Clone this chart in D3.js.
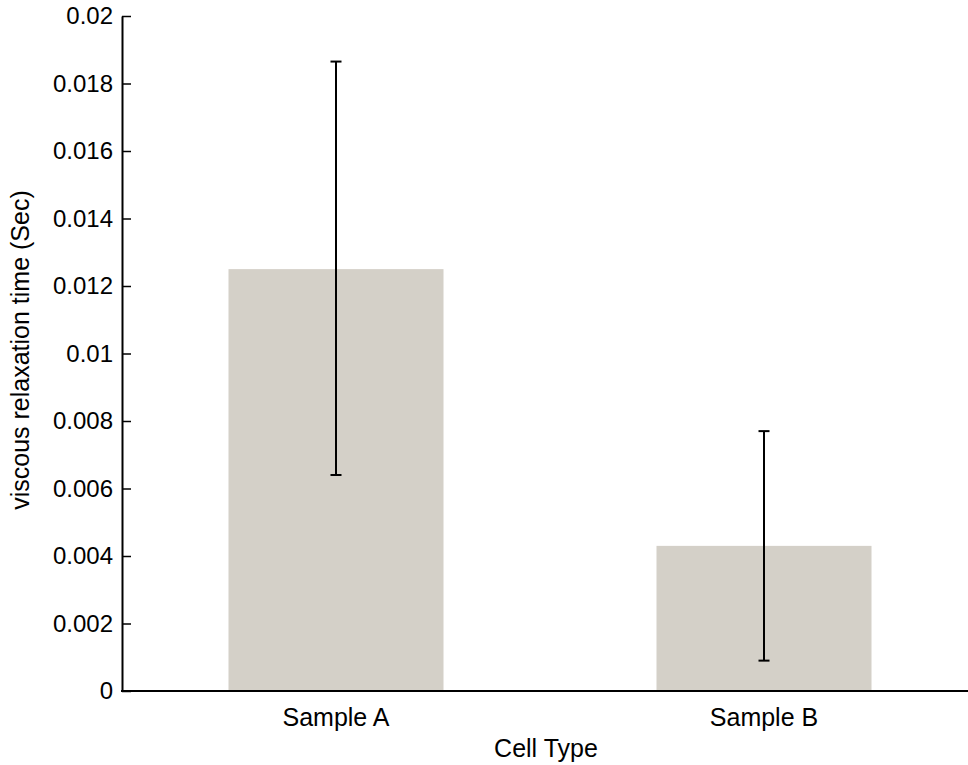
<!DOCTYPE html>
<html>
<head>
<meta charset="utf-8">
<script src="https://cdn.jsdelivr.net/npm/d3@7"></script>
<style>
html,body{margin:0;padding:0;background:#fff;}
svg{display:block;font-family:"Liberation Sans",Arial,sans-serif;}
</style>
</head>
<body>
<svg id="chart" width="968" height="765"></svg>
<script>
const categories = ["Sample A", "Sample B"];
const meanValues = [0.0125, 0.0043];
const errLow = [0.0064, 0.0009];
const errHigh = [0.01865, 0.0077];
const yTicks = [0, 0.002, 0.004, 0.006, 0.008, 0.01, 0.012, 0.014, 0.016, 0.018, 0.02];

(function () {
const svg = d3.select("#chart");
const W = 968, H = 765;
const mLeft = 122, mTop = 16, mBottom = 691;
const FONT = "'Liberation Sans', Arial, sans-serif";

const x = d3.scaleBand().domain(categories).range([mLeft, 978]).padding(0);
const y = d3.scaleLinear().domain([0, 0.02]).range([mBottom, mTop]);
const barW = 215;

// bars
svg.append("g").selectAll("rect").data(categories).join("rect")
  .attr("x", d => x(d) + x.bandwidth()/2 - barW/2)
  .attr("width", barW)
  .attr("y", (d,i) => y(meanValues[i]))
  .attr("height", (d,i) => y(0) - y(meanValues[i]))
  .attr("fill", "#d4d0c8");

// error bars
const eb = svg.append("g").attr("stroke", "#000").attr("stroke-width", 2);
categories.forEach((c,i) => {
  const cx = x(c) + x.bandwidth()/2;
  eb.append("line").attr("x1", cx).attr("x2", cx).attr("y1", y(errLow[i])).attr("y2", y(errHigh[i]));
  eb.append("line").attr("x1", cx-5.5).attr("x2", cx+5.5).attr("y1", y(errLow[i])).attr("y2", y(errLow[i]));
  eb.append("line").attr("x1", cx-5.5).attr("x2", cx+5.5).attr("y1", y(errHigh[i])).attr("y2", y(errHigh[i]));
});

// y axis
const yAxis = d3.axisLeft(y).tickValues(yTicks)
  .tickFormat(d => String(+d.toFixed(3)))
  .tickSizeInner(-9).tickSizeOuter(0).tickPadding(9);
const gy = svg.append("g").attr("transform", `translate(${mLeft},0)`).call(yAxis);
gy.attr("font-size", 24).attr("font-family", FONT);
gy.select(".domain").attr("stroke", "#000").attr("stroke-width", 2);
gy.selectAll(".tick line").attr("stroke", "#000").attr("stroke-width", 1.5);
gy.selectAll(".tick text").attr("fill", "#000");

// x axis
const xAxis = d3.axisBottom(x).tickSize(0).tickPadding(17);
const gx = svg.append("g").attr("transform", `translate(0,${mBottom})`).call(xAxis);
gx.attr("font-size", 25).attr("font-family", FONT);
gx.select(".domain").remove();
gx.append("line").attr("x1", mLeft-1).attr("x2", W).attr("y1", 0).attr("y2", 0)
  .attr("stroke", "#000").attr("stroke-width", 2);
gx.selectAll(".tick text").attr("fill", "#000");

// axis titles
svg.append("text").attr("x", 546).attr("y", 757).attr("text-anchor", "middle")
  .attr("font-family", FONT).attr("font-size", 25).attr("fill", "#000").text("Cell Type");
svg.append("text").attr("transform", "translate(29,350) rotate(-90)")
  .attr("text-anchor", "middle").attr("font-family", FONT).attr("font-size", 25).attr("fill", "#000")
  .text("viscous relaxation time (Sec)");
})();
</script>
</body>
</html>
